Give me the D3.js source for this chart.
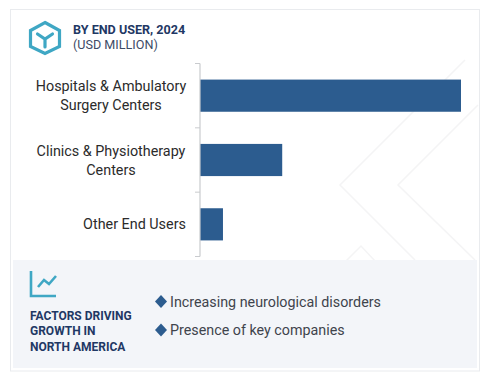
<!DOCTYPE html>
<html>
<head>
<meta charset="utf-8">
<script src="https://cdn.jsdelivr.net/npm/d3@7"></script>
<style>
	html, body { margin: 0; padding: 0; background: #fff; }
	svg { display: block; }
	text { font-family: Roboto, sans-serif; }
</style>
</head>
<body>
<div id="chart"></div>
<script>
// Chart data, no value axis in the source so these are relative bar lengths
const categories = [
	["Hospitals & Ambulatory", "Surgery Centers"],
	["Clinics & Physiotherapy", "Centers"],
	["Other End Users"]
];
const categoryKeys = ["hospitals", "clinics", "other"];
const values = [100, 31.5, 8.8];
const factors = ["Increasing neurological disorders", "Presence of key companies"];
const factorTitle = ["FACTORS DRIVING", "GROWTH IN", "NORTH AMERICA"];
const chartTitle = "BY END USER, 2024";
const chartUnit = "(USD MILLION)";

const width = 487;
const height = 388;
const navy = "#1f3864";
const barColor = "#2c5c8f";
const teal = "#3fa7c4";

const svg = d3.select("#chart").append("svg")
	.attr("width", width)
	.attr("height", height);

// Card frame
svg.append("rect")
	.attr("x", 10.5).attr("y", 9.5)
	.attr("width", 469).attr("height", 361.5)
	.attr("fill", "#fff")
	.attr("stroke", "#e9ebee");

// Faint watermark chevrons
const watermark = d3.line();
svg.append("g")
	.attr("fill", "none")
	.attr("stroke", "#f4f4f5")
	.attr("stroke-width", 1.5)
	.selectAll("path")
	.data([
		[[465, 60], [340, 185], [415, 260]],
		[[478, 105], [398, 185], [475, 260]],
		[[346, 261], [361, 246], [375, 261]]
	])
	.join("path")
	.attr("d", watermark);

// Bottom panel
svg.append("rect")
	.attr("x", 13).attr("y", 260)
	.attr("width", 464).attr("height", 108)
	.attr("fill", "#f3f5f9");

// Header icon
const icon = svg.append("g")
	.attr("fill", "none")
	.attr("stroke", teal);
icon.append("path")
	.attr("stroke-width", 3.2)
	.attr("stroke-linejoin", "miter")
	.attr("d", "M45 22.5 L59.5 30.5 L59.5 46.5 L45 53.5 L30.5 46.5 L30.5 30.5 Z");
icon.append("path")
	.attr("stroke-width", 3.2)
	.attr("stroke-linecap", "round")
	.attr("d", "M37.5 34 L45 39 L52.5 34 M45 39 L45 47");

svg.append("text")
	.attr("x", 73).attr("y", 34)
	.attr("font-size", 12.6)
	.attr("font-weight", 700)
	.attr("fill", navy)
	.text(chartTitle);
svg.append("text")
	.attr("x", 73).attr("y", 49)
	.attr("font-size", 12.6)
	.attr("fill", "#3d4a66")
	.text(chartUnit);

// Scales
const xScale = d3.scaleLinear()
	.domain([0, d3.max(values)])
	.range([200, 461]);
const yScale = d3.scaleBand()
	.domain(categoryKeys)
	.range([63.5, 256.5])
	.paddingInner(0.5)
	.paddingOuter(0.25);

// Bars
svg.append("g")
	.selectAll("rect")
	.data(values)
	.join("rect")
	.attr("x", xScale(0))
	.attr("y", (d, i) => yScale(categoryKeys[i]))
	.attr("width", (d) => xScale(d) - xScale(0))
	.attr("height", yScale.bandwidth())
	.attr("fill", barColor);

// Axis line with ticks between the bands
const tickYs = d3.range(categoryKeys.length + 1).map((i) => 63.5 + i * (193 / categoryKeys.length));
const axis = svg.append("g")
	.attr("fill", "none")
	.attr("stroke", "#c9cbce");
axis.append("path")
	.attr("stroke-width", 1.2)
	.attr("d", `M200 ${tickYs[0]} V${tickYs[tickYs.length - 1]}`);
axis.selectAll("line")
	.data(tickYs)
	.join("line")
	.attr("x1", 195).attr("x2", 200)
	.attr("y1", (d) => d).attr("y2", (d) => d);

// Category labels
const labels = svg.append("g")
	.attr("text-anchor", "middle")
	.attr("font-size", 14.35)
	.attr("fill", "#2b2b2b");
categories.forEach((lines, i) => {
	const cy = yScale(categoryKeys[i]) + yScale.bandwidth() / 2;
	lines.forEach((line, j) => {
		labels.append("text")
			.attr("x", i === 2 ? 134.5 : 111)
			.attr("y", cy + 5 + (j - (lines.length - 1) / 2) * 19)
			.text(line);
	});
});

// Trend icon in panel
const trend = svg.append("g")
	.attr("fill", "none")
	.attr("stroke", teal)
	.attr("stroke-width", 2.6);
trend.append("path").attr("d", "M31 271 V296 H56");
trend.append("path").attr("d", "M38 287 L44 280 L49 284 L56 276");

// Panel heading
svg.append("g")
	.attr("font-size", 12)
	.attr("font-weight", 700)
	.attr("fill", navy)
	.selectAll("text")
	.data(factorTitle)
	.join("text")
	.attr("x", 30)
	.attr("y", (d, i) => 320 + i * 15.3)
	.text((d) => d);

// Factor list
const factorRow = svg.append("g")
	.selectAll("g")
	.data(factors)
	.join("g")
	.attr("transform", (d, i) => `translate(161,${301.5 + i * 28.5})`);
factorRow.append("path")
	.attr("d", "M0 -6.5 L6 0 L0 6.5 L-6 0 Z")
	.attr("fill", barColor);
factorRow.append("text")
	.attr("x", 9).attr("y", 5)
	.attr("font-size", 14.3)
	.attr("fill", "#3f444c")
	.text((d) => d);
</script>
</body>
</html>
